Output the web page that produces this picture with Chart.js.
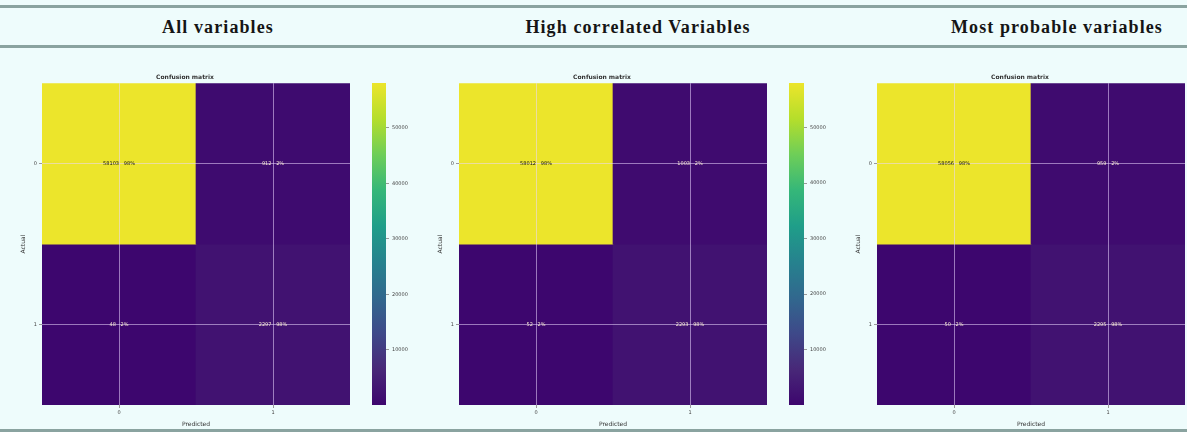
<!DOCTYPE html>
<html>
<head>
<meta charset="UTF-8">
<title>Confusion matrices</title>
<script src="https://cdn.jsdelivr.net/npm/chart.js@4.4.1/dist/chart.umd.min.js"></script>
<style>
  html, body { margin: 0; padding: 0; }
  body { width: 1187px; height: 432px; background: #eefcfc; position: relative; overflow: hidden; font-family: "DejaVu Sans", sans-serif; }
  .rule { position: absolute; left: 0; width: 1187px; height: 3px; background: #8aa3a0; }
  .head { position: absolute; top: 17px; font: bold 18px "Liberation Serif", serif; letter-spacing: 1.1px; color: #151515; transform: translateX(-50%); white-space: nowrap; }
  canvas { position: absolute; }
</style>
</head>
<body>
<div class="rule" style="top:5px"></div>
<div class="rule" style="top:45px"></div>
<div class="rule" style="top:429px"></div>
<div class="head" id="h0" style="left:218px"></div>
<div class="head" id="h1" style="left:638px"></div>
<div class="head" id="h2" style="left:1057px"></div>

<canvas id="m0" width="340" height="362" style="left:20px;top:66px"></canvas>
<canvas id="c0" width="66" height="362" style="left:360px;top:66px"></canvas>
<canvas id="m1" width="340" height="362" style="left:437px;top:66px"></canvas>
<canvas id="c1" width="67" height="362" style="left:777px;top:66px"></canvas>
<canvas id="m2" width="332" height="362" style="left:855px;top:66px"></canvas>

<script>
// data
var panelTitles = ['All variables', 'High correlated Variables', 'Most probable variables'];
var classLabels = ['0', '1'];
var countsAll  = [[58103, 912], [48, 2297]];
var countsHigh = [[58012, 1003], [52, 2293]];
var countsProb = [[58056, 959], [50, 2295]];
var colorbarTicks = [10000, 20000, 30000, 40000, 50000];

var viridis = ['#3d066e', '#482878', '#3e4989', '#31688e', '#26828e', '#1f9e89', '#35b779', '#6ece58', '#b5de2b', '#ece52b'];

function hexRgb(h) {
    return [parseInt(h.substr(1, 2), 16), parseInt(h.substr(3, 2), 16), parseInt(h.substr(5, 2), 16)];
}
function cmap(t) {
    t = Math.max(0, Math.min(1, t));
    var p = t * (viridis.length - 1);
    var i = Math.min(Math.floor(p), viridis.length - 2);
    var f = p - i;
    var a = hexRgb(viridis[i]), b = hexRgb(viridis[i + 1]);
    return 'rgb(' + [0, 1, 2].map(function (k) { return Math.round(a[k] + (b[k] - a[k]) * f); }).join(',') + ')';
}
function range(counts) {
    var all = counts[0].concat(counts[1]);
    return [Math.min.apply(null, all), Math.max.apply(null, all)];
}

var tiny = { size: 5, family: 'DejaVu Sans' };
var small = { size: 6, family: 'DejaVu Sans' };
var gridCol = 'rgba(235,215,255,0.55)';

// write cell text over the heatmap
var cellText = {
    id: 'cellText',
    afterDraw: function (chart) {
        var counts = chart.options.plugins.cellText.counts;
        var rg = range(counts);
        var ctx = chart.ctx;
        ctx.save();
        ctx.font = '5px DejaVu Sans';
        ctx.textAlign = 'center';
        ctx.textBaseline = 'middle';
        counts.forEach(function (row, r) {
            var tot = row[0] + row[1];
            row.forEach(function (v, c) {
                var x = chart.scales.x.getPixelForValue(c);
                var y = chart.scales.y.getPixelForValue(r);
                ctx.fillStyle = (v - rg[0]) / (rg[1] - rg[0]) > 0.5 ? '#111' : '#f4e8d0';
                ctx.fillText(v + '   ' + Math.round(v / tot * 100) + '%', x, y);
            });
        });
        ctx.restore();
    }
};

function makeMatrix(id, counts) {
    var rg = range(counts);
    var datasets = counts.map(function (row, r) {
        return {
            data: row.map(function () { return [r - 0.5, r + 0.5]; }),
            backgroundColor: row.map(function (v) { return cmap((v - rg[0]) / (rg[1] - rg[0])); }),
            borderWidth: 0,
            grouped: false,
            barPercentage: 1,
            categoryPercentage: 1
        };
    });
    new Chart(document.getElementById(id), {
        type: 'bar',
        data: { labels: classLabels, datasets: datasets },
        options: {
            responsive: false,
            animation: false,
            layout: { padding: { right: id === 'm2' ? 2 : 10 } },
            plugins: {
                legend: { display: false },
                tooltip: { enabled: false },
                title: { display: true, text: 'Confusion matrix', font: small, color: '#333', padding: { top: 8, bottom: 2 } },
                cellText: { counts: counts }
            },
            scales: {
                x: {
                    offset: true,
                    grid: { z: 1, offset: false, color: gridCol, tickColor: '#999', tickLength: 3 },
                    border: { display: false },
                    ticks: { font: tiny, color: '#444', padding: 2 },
                    title: { display: true, text: 'Predicted', font: small, color: '#333', padding: 0 },
                    afterFit: function (s) { s.height = 23; }
                },
                y: {
                    reverse: true,
                    min: -0.5,
                    max: 1.5,
                    afterBuildTicks: function (s) { s.ticks = classLabels.map(function (_, i) { return { value: i }; }); },
                    grid: { z: 1, color: gridCol, tickColor: '#999', tickLength: 3 },
                    border: { display: false },
                    ticks: { font: tiny, color: '#444', padding: 2, callback: function (v) { return classLabels[v]; } },
                    title: { display: true, text: 'Actual', font: small, color: '#333', padding: 0 },
                    afterFit: function (s) { s.width = 22; }
                }
            }
        },
        plugins: [cellText]
    });
}

function makeColorbar(id, counts) {
    var rg = range(counts);
    new Chart(document.getElementById(id), {
        type: 'bar',
        data: {
            labels: [''],
            datasets: [{
                data: [rg],
                borderWidth: 0,
                barPercentage: 1,
                categoryPercentage: 1,
                backgroundColor: function (c) {
                    var a = c.chart.chartArea;
                    if (!a) return viridis[0];
                    var g = c.chart.ctx.createLinearGradient(0, a.bottom, 0, a.top);
                    viridis.forEach(function (col, i) { g.addColorStop(i / (viridis.length - 1), col); });
                    return g;
                }
            }]
        },
        options: {
            responsive: false,
            animation: false,
            layout: { padding: { left: 12, top: 17, bottom: 23 } },
            plugins: { legend: { display: false }, tooltip: { enabled: false } },
            scales: {
                x: { display: false },
                y: {
                    position: 'right',
                    min: rg[0],
                    max: rg[1],
                    afterBuildTicks: function (s) { s.ticks = colorbarTicks.map(function (v) { return { value: v }; }); },
                    grid: { drawOnChartArea: false, tickColor: '#999', tickLength: 3 },
                    border: { display: false },
                    ticks: { font: tiny, color: '#444', padding: 3, callback: function (v) { return String(v); } },
                    afterFit: function (s) { s.width = 40; }
                }
            }
        }
    });
}

panelTitles.forEach(function (t, i) { document.getElementById('h' + i).textContent = t; });
makeMatrix('m0', countsAll);
makeColorbar('c0', countsAll);
makeMatrix('m1', countsHigh);
makeColorbar('c1', countsHigh);
makeMatrix('m2', countsProb);
</script>
</body>
</html>
